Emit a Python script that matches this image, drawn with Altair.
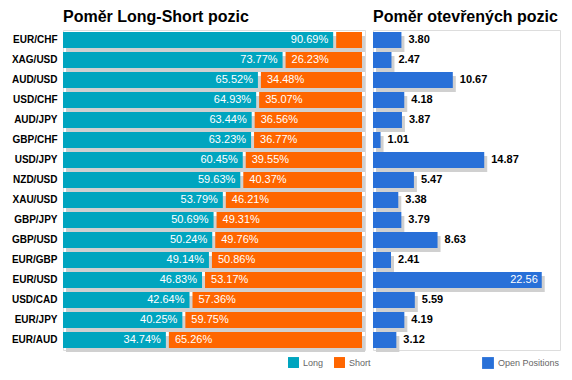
import altair as alt
import pandas as pd

pairs = ["EUR/CHF", "XAG/USD", "AUD/USD", "USD/CHF", "AUD/JPY", "GBP/CHF", "USD/JPY", "NZD/USD",
         "XAU/USD", "GBP/JPY", "GBP/USD", "EUR/GBP", "EUR/USD", "USD/CAD", "EUR/JPY", "EUR/AUD"]
long_pct = [90.69, 73.77, 65.52, 64.93, 63.44, 63.23, 60.45, 59.63, 53.79, 50.69, 50.24, 49.14, 46.83, 42.64, 40.25, 34.74]
short_pct = [9.31, 26.23, 34.48, 35.07, 36.56, 36.77, 39.55, 40.37, 46.21, 49.31, 49.76, 50.86, 53.17, 57.36, 59.75, 65.26]
open_pos = [3.80, 2.47, 10.67, 4.18, 3.87, 1.01, 14.87, 5.47, 3.38, 3.79, 8.63, 2.41, 22.56, 5.59, 4.19, 3.12]

TEAL = "#00A5BF"
ORANGE = "#FF6600"
BLUE = "#2870D8"
SHADOW = "#D0D0D0"
FONT = "Liberation Sans"

rows = []
for p, l, s in zip(pairs, long_pct, short_pct):
    rows.append({"pair": p, "type": "Long", "start": 0.0, "end": l, "val": l, "label": f"{l:.2f}%"})
    rows.append({"pair": p, "type": "Short", "start": l, "end": l + s, "val": s, "label": f"{s:.2f}%"})
ls = pd.DataFrame(rows)
op = pd.DataFrame({"pair": pairs, "open": open_pos, "label": [f"{v:.2f}" for v in open_pos], "series": "Open Positions"})

H = 320
yenc = alt.Y("pair:N", sort=pairs, title=None,
             scale=alt.Scale(paddingInner=0.2, paddingOuter=0.1),
             axis=alt.Axis(domain=False, ticks=False, labelFont=FONT, labelFontSize=10,
                           labelFontWeight="bold", labelColor="#000", labelPadding=6))
yenc_noaxis = alt.Y("pair:N", sort=pairs, title=None, axis=None,
                    scale=alt.Scale(paddingInner=0.2, paddingOuter=0.1))

xL = alt.Scale(domain=[0, 101], nice=False, zero=True)
base_l = alt.Chart(ls)

shadow_l = base_l.transform_filter("datum.type == 'Long'").transform_calculate(end2="100").mark_bar(
    color=SHADOW, xOffset=3, x2Offset=3, yOffset=4).encode(
    x=alt.X("start:Q", scale=xL, axis=None), x2=alt.X2("end2:Q"), y=yenc)

long_bar = base_l.transform_filter("datum.type == 'Long'").mark_bar(x2Offset=-1).encode(
    x=alt.X("start:Q", scale=xL, axis=None), x2="end:Q", y=yenc,
    color=alt.Color("type:N", scale=alt.Scale(domain=["Long", "Short"], range=[TEAL, ORANGE]),
                    legend=alt.Legend(title=None, orient="none", legendX=225, legendY=327, direction="horizontal",
                                      symbolType="square", symbolSize=120, symbolStrokeWidth=0,
                                      labelFont=FONT, labelFontSize=9, labelColor="#666",
                                      columnPadding=10, symbolOpacity=1)),
)
short_bar = base_l.transform_filter("datum.type == 'Short'").mark_bar(xOffset=2).encode(
    x=alt.X("start:Q", scale=xL, axis=None), x2="end:Q", y=yenc,
    color=alt.Color("type:N"),
)
long_txt = base_l.transform_filter("datum.type == 'Long'").mark_text(
    align="right", baseline="middle", dx=-6, color="white", font=FONT, fontSize=11).encode(
    x=alt.X("end:Q", scale=xL, axis=None), y=yenc, text="label:N")
short_txt = base_l.transform_filter("datum.type == 'Short' && datum.val > 15").mark_text(
    align="left", baseline="middle", dx=8, color="white", font=FONT, fontSize=11).encode(
    x=alt.X("start:Q", scale=xL, axis=None), y=yenc, text="label:N")

left = alt.layer(shadow_l, long_bar, short_bar, long_txt, short_txt).properties(
    width=302, height=H,
    title=alt.TitleParams("Poměr Long-Short pozic", anchor="start", frame="group", font=FONT, fontSize=16,
                          fontWeight="bold", color="#000", offset=5))

xR = alt.Scale(domain=[0, 25], nice=False)
base_r = alt.Chart(op)
shadow_r = base_r.mark_bar(color=SHADOW, xOffset=3, x2Offset=3, yOffset=4).encode(
    x=alt.X("open:Q", scale=xR, axis=None), y=yenc_noaxis)
bar_r = base_r.mark_bar().encode(
    x=alt.X("open:Q", scale=xR, axis=None), y=yenc_noaxis,
    color=alt.Color("series:N", scale=alt.Scale(domain=["Open Positions"], range=[BLUE]),
                    legend=alt.Legend(title=None, orient="none", legendX=109, legendY=327,
                                      symbolType="square", symbolSize=140, symbolStrokeWidth=0,
                                      labelFont=FONT, labelFontSize=9, labelColor="#666", symbolOpacity=1)))
txt_out = base_r.transform_filter("datum.open <= 20").mark_text(
    align="left", baseline="middle", dx=7, color="#000", font=FONT, fontSize=11, fontWeight="bold").encode(
    x=alt.X("open:Q", scale=xR, axis=None), y=yenc_noaxis, text="label:N")
txt_in = base_r.transform_filter("datum.open > 20").mark_text(
    align="right", baseline="middle", dx=-4, color="white", font=FONT, fontSize=11).encode(
    x=alt.X("open:Q", scale=xR, axis=None), y=yenc_noaxis, text="label:N")

right = alt.layer(shadow_r, bar_r, txt_out, txt_in).properties(
    width=187, height=H,
    title=alt.TitleParams("Poměr otevřených pozic", anchor="start", frame="group", font=FONT, fontSize=16,
                          fontWeight="bold", color="#000", offset=5))

chart = alt.hconcat(left, right, spacing=8, bounds="flush").resolve_scale(color="independent").properties(
    padding={"left": 2, "top": 0, "right": 0, "bottom": 0}
).configure_view(stroke=None).configure(background="white")

chart.save("out.html", embed_options={"renderer": "svg", "actions": False})
